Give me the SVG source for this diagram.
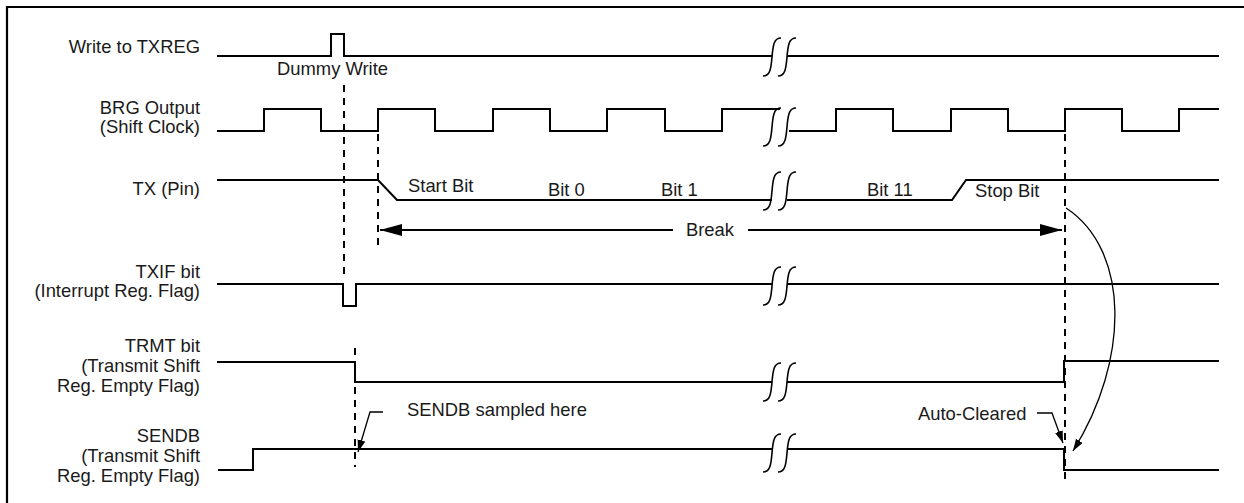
<svg xmlns="http://www.w3.org/2000/svg" width="1244" height="503" viewBox="0 0 1244 503">
<style>
  text { font-family: "Liberation Sans", Arial, sans-serif; font-size: 18.4px; fill: #1a1a1a; }
  .lbl { text-anchor: end; }
  .wave { fill: none; stroke: #000; stroke-width: 2; stroke-linejoin: miter; }
  .brk { fill: none; stroke: #000; stroke-width: 1.6; }
  .dash { fill: none; stroke: #000; stroke-width: 2; stroke-dasharray: 7 6; }
  .thin { fill: none; stroke: #000; stroke-width: 1.3; }
  .border { fill: none; stroke: #000; stroke-width: 2.2; }
</style>
<defs>
  <path id="brk" class="brk" d="M9,-19 C2,-19 1,-12 0,0 C-1,12 -2,19 -9,19"/>
  <marker id="bigArrow" markerUnits="userSpaceOnUse" markerWidth="24" markerHeight="14" refX="22" refY="6" orient="auto-start-reverse">
    <path d="M0,0 L22,6 L0,12 z" fill="#000"/>
  </marker>
  <marker id="smallArrow" markerUnits="userSpaceOnUse" markerWidth="14" markerHeight="10" refX="12" refY="4" orient="auto">
    <path d="M0,0 L12,4 L0,8 z" fill="#000"/>
  </marker>
</defs>
<rect width="1244" height="503" fill="#fff"/>
<polyline class="border" points="7,510 7,7 1250,7"/>

<g id="write-txreg">
  <text class="lbl" x="200" y="53">Write to TXREG</text>
  <polyline class="wave" points="217,56 331,56 331,34 344,34 344,56 772,56"/>
  <polyline class="wave" points="787,56 1219,56"/>
  <use href="#brk" x="772" y="57"/>
  <use href="#brk" x="787" y="57"/>
  <text x="277" y="75">Dummy Write</text>
</g>

<g id="brg-output">
  <text class="lbl" x="200" y="114">BRG Output</text>
  <text class="lbl" x="200" y="133">(Shift Clock)</text>
  <polyline class="wave" points="217,131 264,131 264,109 321,109 321,131 378,131 378,109 435,109 435,131 493,131 493,109 550,109 550,131 607,131 607,109 665,109 665,131 722,131 722,109 780,109"/>
  <polyline class="wave" points="789,131 836,131 836,109 893,109 893,131 951,131 951,109 1008,109 1008,131 1065,131 1065,109 1122,109 1122,131 1179,131 1179,109 1219,109"/>
  <use href="#brk" x="772" y="127"/>
  <use href="#brk" x="787" y="127"/>
</g>

<g id="tx-pin">
  <text class="lbl" x="200" y="195">TX (Pin)</text>
  <polyline class="wave" points="217,180 378,180 397,200 772,200"/>
  <polyline class="wave" points="787,200 952,200 966,180 1219,180"/>
  <use href="#brk" x="772" y="191"/>
  <use href="#brk" x="787" y="191"/>
  <text x="408" y="192">Start Bit</text>
  <text x="548" y="196">Bit 0</text>
  <text x="661" y="196">Bit 1</text>
  <text x="867" y="196">Bit 11</text>
  <text x="975" y="197">Stop Bit</text>
</g>

<g id="txif">
  <text class="lbl" x="200" y="278">TXIF bit</text>
  <text class="lbl" x="200" y="297">(Interrupt Reg. Flag)</text>
  <polyline class="wave" points="217,284 343,284 343,306 356,306 356,284 772,284"/>
  <polyline class="wave" points="787,284 1219,284"/>
  <use href="#brk" x="772" y="286"/>
  <use href="#brk" x="787" y="286"/>
</g>

<g id="trmt">
  <text class="lbl" x="200" y="352">TRMT bit</text>
  <text class="lbl" x="200" y="372">(Transmit Shift</text>
  <text class="lbl" x="200" y="392">Reg. Empty Flag)</text>
  <polyline class="wave" points="217,362 355,362 355,382 772,382"/>
  <polyline class="wave" points="787,382 1064,382 1064,361 1219,361"/>
  <use href="#brk" x="772" y="382"/>
  <use href="#brk" x="787" y="382"/>
</g>

<g id="sendb">
  <text class="lbl" x="200" y="442">SENDB</text>
  <text class="lbl" x="200" y="462">(Transmit Shift</text>
  <text class="lbl" x="200" y="482">Reg. Empty Flag)</text>
  <polyline class="wave" points="218,470 253,470 253,449 772,449"/>
  <polyline class="wave" points="787,449 1064,449 1064,470 1219,470"/>
  <use href="#brk" x="772" y="453"/>
  <use href="#brk" x="787" y="453"/>
</g>

<g id="connectors">
  <line class="dash" x1="344" y1="85" x2="344" y2="276"/>
  <line class="dash" x1="378" y1="134" x2="378" y2="248"/>
  <line class="dash" x1="355" y1="348" x2="355" y2="467"/>
  <line class="dash" x1="1065" y1="134" x2="1065" y2="484"/>
  <line class="wave" x1="380" y1="230" x2="673" y2="230" marker-start="url(#bigArrow)"/>
  <line class="wave" x1="748" y1="230" x2="1062" y2="230" marker-end="url(#bigArrow)"/>
  <text x="710" y="236" text-anchor="middle">Break</text>
  <polyline class="thin" points="383,412 370,412 358,452" marker-end="url(#smallArrow)"/>
  <text x="407" y="416">SENDB sampled here</text>
  <polyline class="thin" points="1037,413 1052,413 1063,443" marker-end="url(#smallArrow)"/>
  <text x="918" y="420">Auto-Cleared</text>
  <path class="thin" d="M1066,208 C1130,250 1130,360 1073,451" marker-end="url(#smallArrow)"/>
</g>
</svg>
